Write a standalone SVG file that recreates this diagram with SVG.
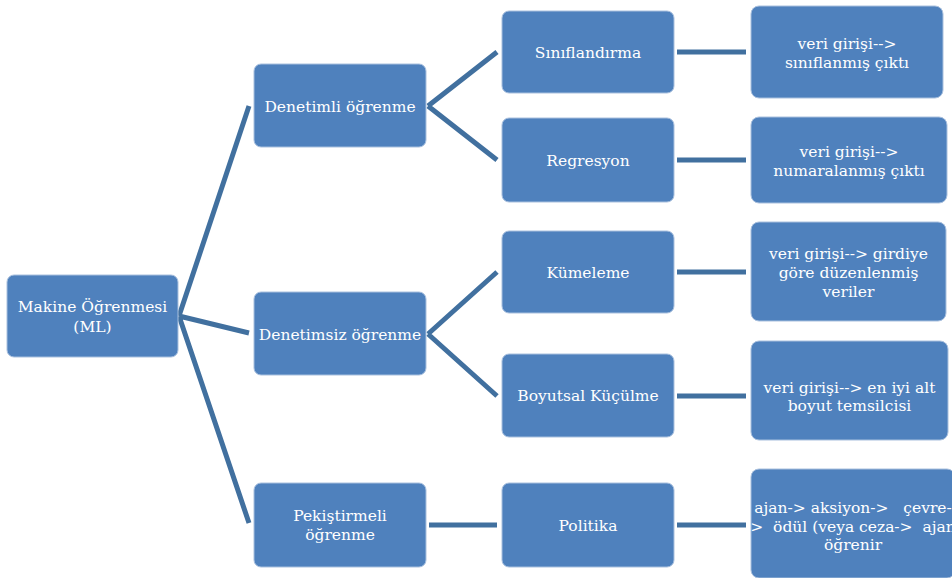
<svg xmlns="http://www.w3.org/2000/svg" width="952" height="578" viewBox="0 0 952 578">
<style>
.box{fill:#4F81BD;stroke:#A9C0DE;stroke-width:1}
.t{font-family:"DejaVu Serif","Liberation Serif",serif;font-size:15.5px;fill:#FFFFFF;text-anchor:middle}
.c{stroke:#41709F;stroke-width:5;fill:none;stroke-linecap:butt}
</style>
<rect width="952" height="578" fill="#FFFFFF"/>
<g id="connectors">
<path class="c" d="M179,316 L249,106 M179,316 L249,333 M179,316 L249,523"/>
<path class="c" d="M428,106 L497,52 M428,106 L497,160"/>
<path class="c" d="M428,334 L497,272 M428,334 L497,396"/>
<path class="c" d="M429,525 L497,525"/>
<path class="c" d="M677,52 L746,52 M677,160 L746,160 M677,272 L746,272 M677,396 L746,396 M677,525 L746,525"/>
</g>
<g id="n-ml"><rect class="box" x="7" y="275" width="171" height="82" rx="7"/>
<text class="t" x="92.5" y="311.5">Makine Öğrenmesi</text><text class="t" x="92.5" y="331.5">(ML)</text></g>
<g id="n-denetimli"><rect class="box" x="254" y="64" width="172" height="83" rx="7"/>
<text class="t" x="340" y="111.5">Denetimli öğrenme</text></g>
<g id="n-denetimsiz"><rect class="box" x="254" y="292" width="172" height="83" rx="7"/>
<text class="t" x="340" y="339.5">Denetimsiz öğrenme</text></g>
<g id="n-pekistirmeli"><rect class="box" x="254" y="483" width="172" height="84" rx="7"/>
<text class="t" x="340" y="521">Pekiştirmeli</text><text class="t" x="340" y="540">öğrenme</text></g>
<g id="n-siniflandirma"><rect class="box" x="502" y="11" width="172" height="82" rx="7"/>
<text class="t" x="588" y="57.5">Sınıflandırma</text></g>
<g id="n-regresyon"><rect class="box" x="502" y="118" width="172" height="84" rx="7"/>
<text class="t" x="588" y="165.5">Regresyon</text></g>
<g id="n-kumeleme"><rect class="box" x="502" y="231" width="172" height="82" rx="7"/>
<text class="t" x="588" y="277.5">Kümeleme</text></g>
<g id="n-boyutsal"><rect class="box" x="502" y="354" width="172" height="83" rx="7"/>
<text class="t" x="588" y="401">Boyutsal Küçülme</text></g>
<g id="n-politika"><rect class="box" x="502" y="483" width="172" height="84" rx="7"/>
<text class="t" x="588" y="530.5">Politika</text></g>
<g id="n-out1"><rect class="box" x="751" y="6" width="192" height="92" rx="8"/>
<text class="t" x="847" y="49">veri girişi--&gt;</text><text class="t" x="847" y="68">sınıflanmış çıktı</text></g>
<g id="n-out2"><rect class="box" x="751" y="117" width="196" height="86" rx="8"/>
<text class="t" x="849" y="157">veri girişi--&gt;</text><text class="t" x="849" y="176">numaralanmış çıktı</text></g>
<g id="n-out3"><rect class="box" x="751" y="222" width="195" height="99" rx="8"/>
<text class="t" x="848.5" y="259">veri girişi--&gt; girdiye</text><text class="t" x="848.5" y="278">göre düzenlenmiş</text><text class="t" x="848.5" y="297">veriler</text></g>
<g id="n-out4"><rect class="box" x="751" y="341" width="197" height="99" rx="8"/>
<text class="t" x="849.5" y="392.5">veri girişi--&gt; en iyi alt</text><text class="t" x="849.5" y="411">boyut temsilcisi</text></g>
<g id="n-out5"><rect class="box" x="751" y="469" width="204" height="109" rx="8"/>
<text class="t" x="853" y="513" style="white-space:pre">ajan-&gt; aksiyon-&gt;   çevre-</text><text class="t" x="853" y="532" style="white-space:pre">&gt;  ödül (veya ceza-&gt;  ajan</text><text class="t" x="853" y="550">öğrenir</text></g>
</svg>
